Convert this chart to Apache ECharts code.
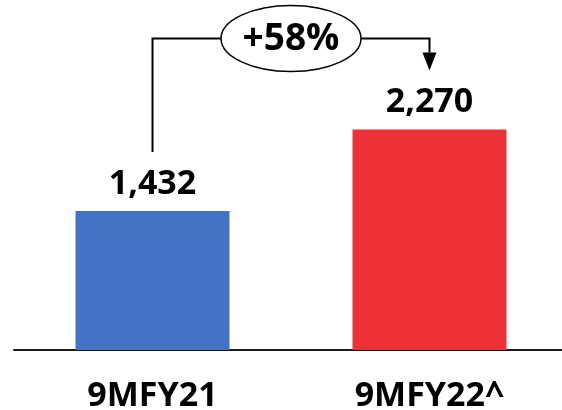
<!DOCTYPE html>
<html>
<head>
<meta charset="utf-8">
<script src="https://cdn.jsdelivr.net/npm/echarts@6/dist/echarts.min.js"></script>
<style>
html, body { margin: 0; padding: 0; background: #fff; }
#main { width: 562px; height: 410px; }
</style>
</head>
<body>
<div id="main"></div>
<script>
var categories = ['9MFY21', '9MFY22^'];
var values = [1432, 2270];
var barColors = ['#4472C4', '#EC3237'];
var growthLabel = '+58%';

var fontName = '"Open Sans"';

var myChart = echarts.init(document.getElementById('main'));

var barData = function () {
    var arr = [];
    for (var i = 0; i < values.length; i++) {
        arr.push({ value: values[i], itemStyle: { color: barColors[i] } });
    }
    return arr;
}();

var option = {
    animation: false,
    backgroundColor: '#fff',
    grid: {
        left: 14,
        width: 554,
        top: 10,
        bottom: 60,
        outerBoundsMode: 'none'
    },
    xAxis: {
        type: 'category',
        data: categories,
        axisLine: { lineStyle: { color: '#1a1a1a', width: 2 } },
        axisTick: { show: false },
        axisLabel: {
            margin: 29,
            color: '#000',
            fontFamily: fontName,
            fontWeight: 'bold',
            fontSize: 34
        }
    },
    yAxis: {
        type: 'value',
        min: 0,
        max: 3500,
        show: false,
        splitLine: { show: false }
    },
    series: [{
        type: 'bar',
        data: barData,
        barWidth: 154,
        label: {
            show: true,
            position: 'top',
            distance: 10,
            color: '#000',
            fontFamily: fontName,
            fontWeight: 'bold',
            fontSize: 34,
            formatter: function (p) {
                return p.value.toLocaleString('en-US');
            }
        }
    }]
};
myChart.setOption(option);

// 箭头和百分比标注, 位置从坐标轴换算
var drawNote = function () {
    var x0 = myChart.convertToPixel({ xAxisIndex: 0 }, categories[0]);
    var x1 = myChart.convertToPixel({ xAxisIndex: 0 }, categories[1]);
    var y0 = myChart.convertToPixel({ yAxisIndex: 0 }, values[0]) - 59;
    var y1 = myChart.convertToPixel({ yAxisIndex: 0 }, values[1]) - 59;
    var lineY = 38.5;
    var cx = (x0 + x1) / 2;
    var rx = 70, ry = 33;
    var head = 18;
    myChart.setOption({
        graphic: [
            {
                type: 'polyline',
                shape: { points: [[x0, y0], [x0, lineY], [cx - rx, lineY]] },
                style: { stroke: '#000', lineWidth: 2, fill: null }
            },
            {
                type: 'polyline',
                shape: { points: [[cx + rx, lineY], [x1, lineY], [x1, y1 - head]] },
                style: { stroke: '#000', lineWidth: 2, fill: null }
            },
            {
                type: 'polygon',
                shape: { points: [[x1 - 7, y1 - head], [x1 + 7, y1 - head], [x1, y1]] },
                style: { fill: '#000' }
            },
            {
                type: 'ellipse',
                shape: { cx: cx, cy: lineY, rx: rx, ry: ry },
                style: { fill: '#fff', stroke: '#000', lineWidth: 1.5 }
            },
            {
                type: 'text',
                x: cx,
                y: lineY + 1,
                style: {
                    text: growthLabel,
                    fill: '#000',
                    font: 'bold 37px ' + fontName,
                    align: 'center',
                    verticalAlign: 'middle'
                }
            }
        ]
    });
};
drawNote();
window.onresize = myChart.resize;
</script>
</body>
</html>
